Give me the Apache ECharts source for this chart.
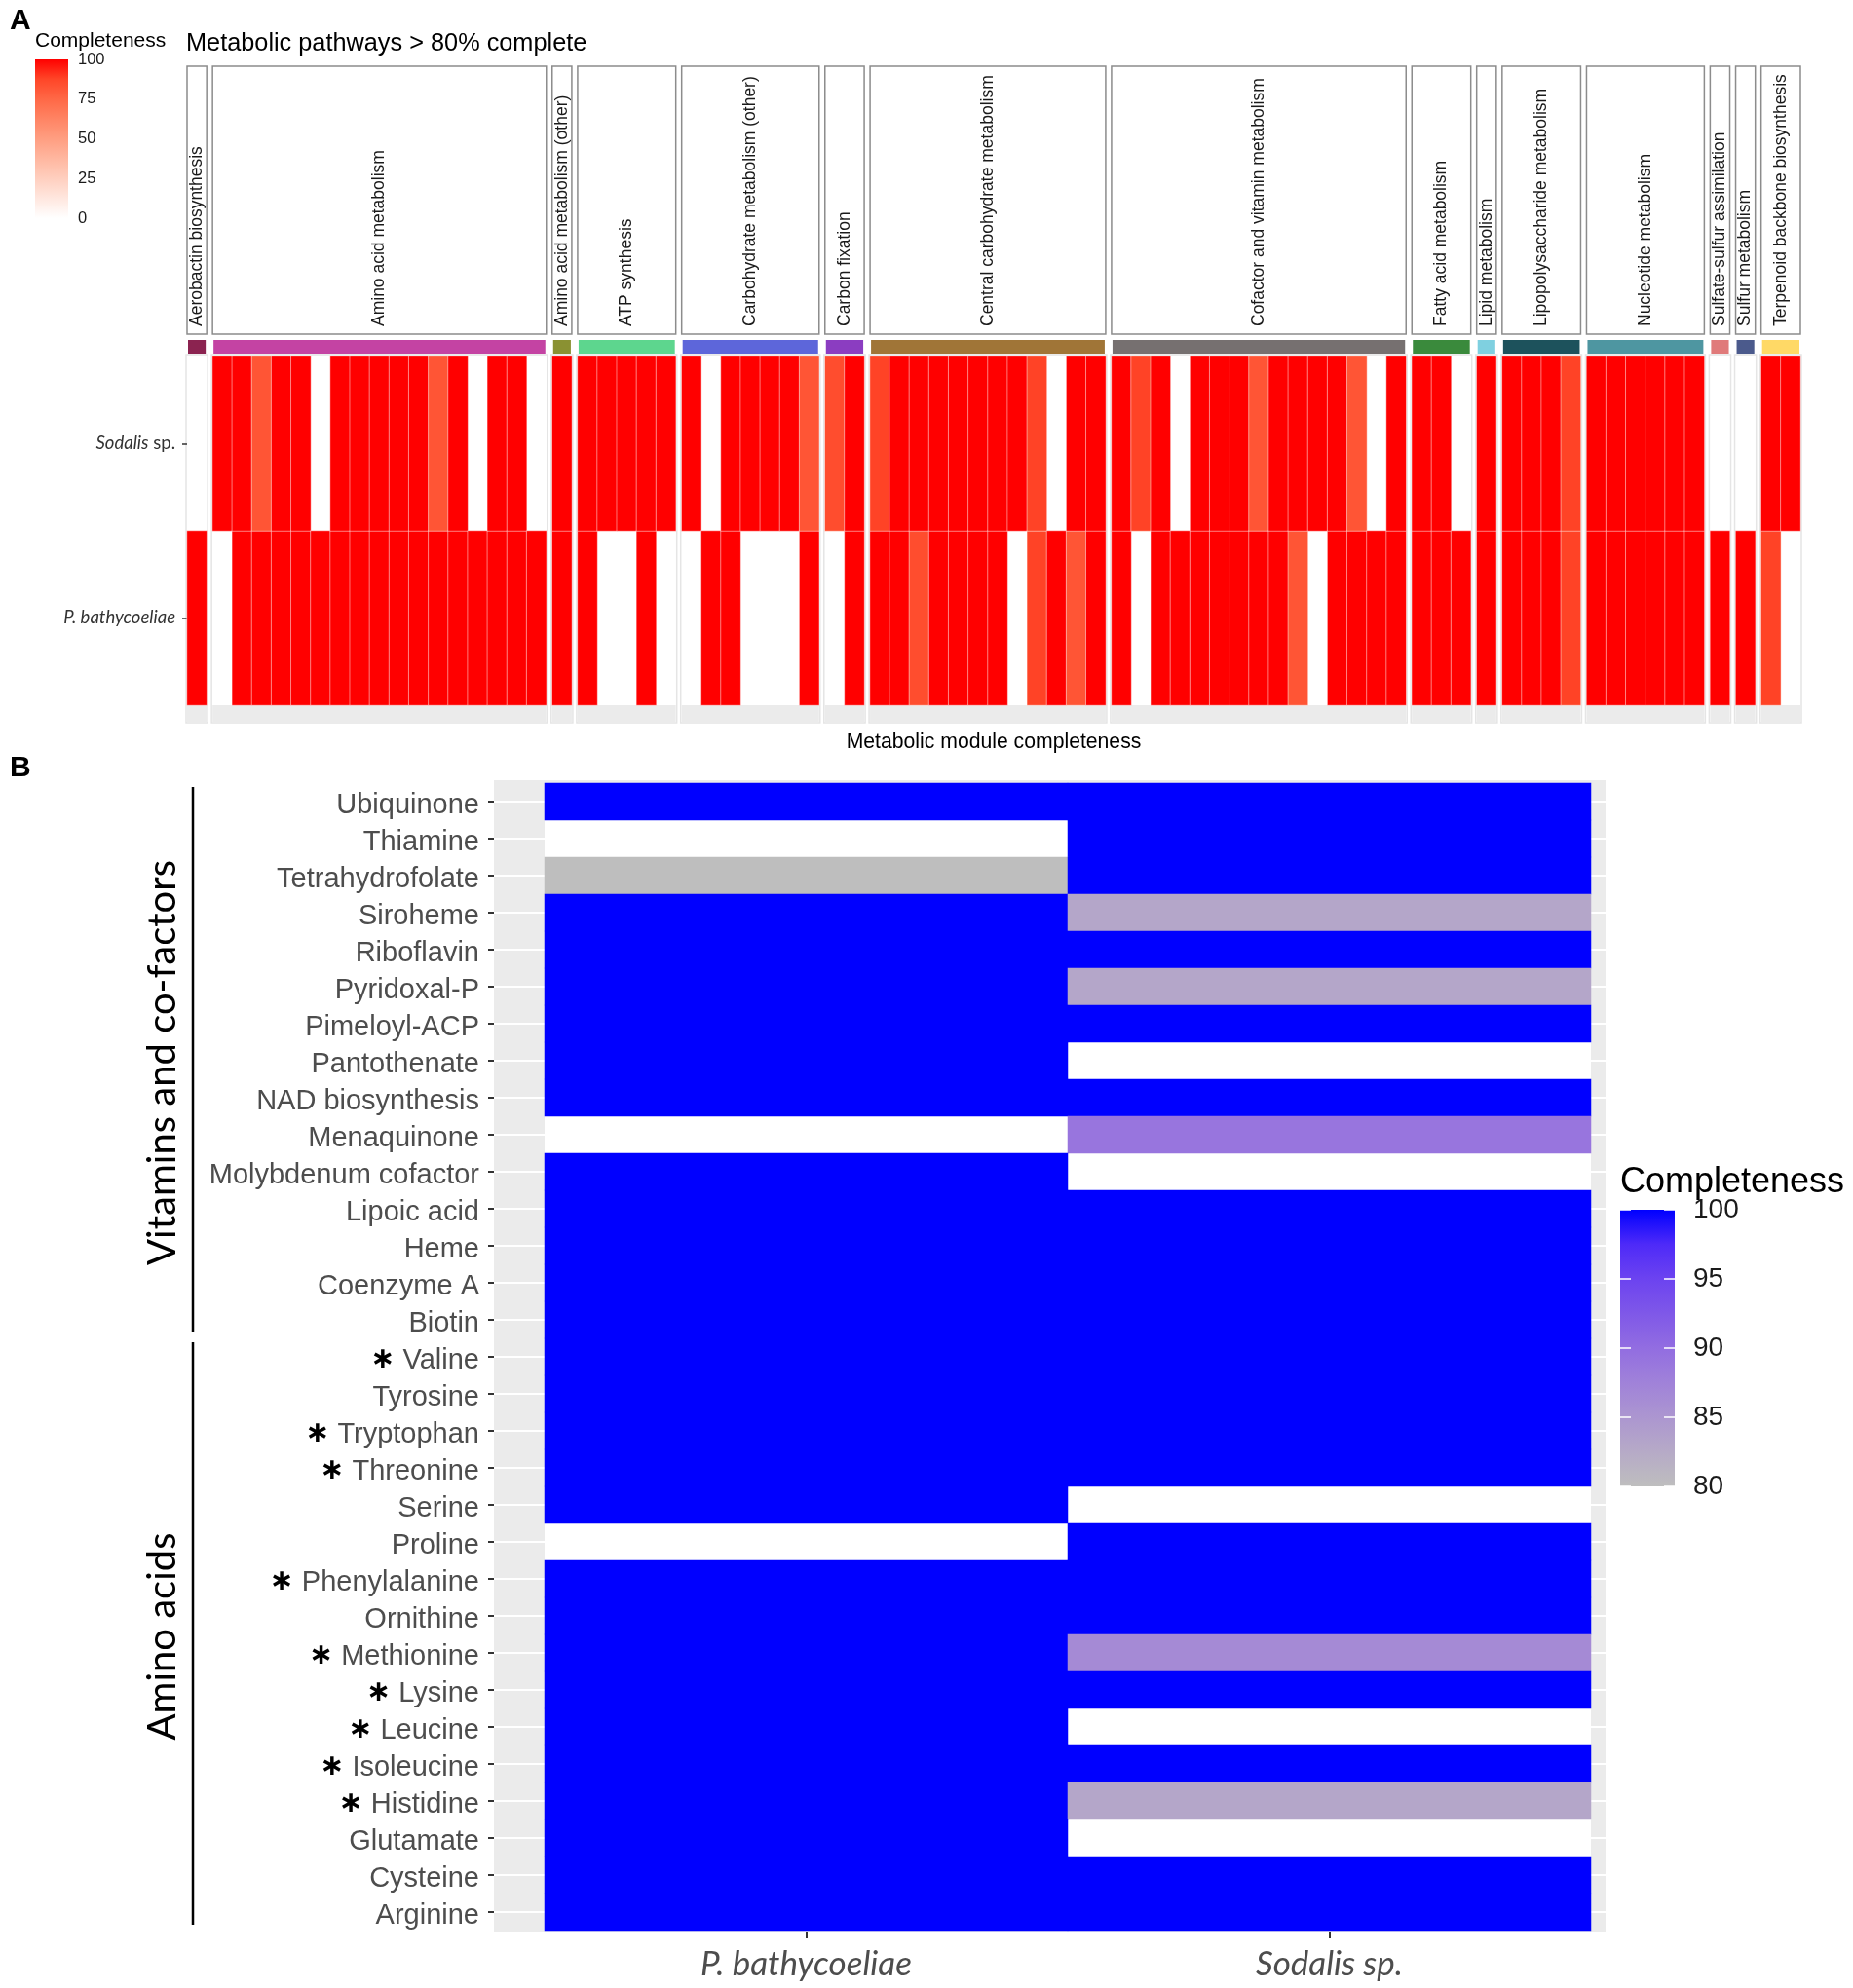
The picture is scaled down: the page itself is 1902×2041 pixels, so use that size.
<!DOCTYPE html>
<html>
<head>
<meta charset="utf-8">
<script src="https://cdn.jsdelivr.net/npm/echarts@6.0.0/dist/echarts.min.js"></script>
<style>
  html, body { margin: 0; padding: 0; background: #fff; }
  #chart { width: 1902px; height: 2041px; }
</style>
</head>
<body>
<div id="chart"></div>
<script>
// ---------- panel A data ----------
var pathwayGroups = ['Aerobactin biosynthesis', 'Amino acid metabolism', 'Amino acid metabolism (other)',
  'ATP synthesis', 'Carbohydrate metabolism (other)', 'Carbon fixation', 'Central carbohydrate metabolism',
  'Cofactor and vitamin metabolism', 'Fatty acid metabolism', 'Lipid metabolism',
  'Lipopolysaccharide metabolism', 'Nucleotide metabolism', 'Sulfate-sulfur assimilation',
  'Sulfur metabolism', 'Terpenoid backbone biosynthesis'];
var modulesPerGroup = [1, 17, 1, 5, 7, 2, 12, 15, 3, 1, 4, 6, 1, 1, 2];
var genomesA = ['P. bathycoeliae', 'Sodalis sp.'];
var N = null;
var sodalisA = [
  N,
  100, 100, 82, 100, 100, N, 100, 100, 100, 100, 100, 82, 100, N, 100, 100, N,
  100,
  100, 100, 100, 100, 100,
  100, N, 100, 100, 100, 100, 82,
  85, 100,
  88, 100, 100, 100, 100, 100, 100, 100, 88, N, 100, 100,
  100, 88, 100, N, 100, 100, 100, 82, 100, 100, 100, 100, 82, N, 100,
  100, 100, N,
  100,
  100, 100, 100, 88,
  100, 100, 100, 100, 100, 100,
  N,
  N,
  100, 100
];
var pbathA = [
  100,
  N, 100, 100, 100, 100, 100, 100, 100, 100, 100, 100, 100, 100, 100, 100, 100, 100,
  100,
  100, N, N, 100, N,
  N, 100, 100, N, N, N, 100,
  N, 100,
  100, 100, 85, 100, 100, 100, 100, N, 88, 100, 82, 100,
  100, N, 100, 100, 100, 100, 100, 100, 100, 82, N, 100, 100, 100, 100,
  100, 100, 100,
  100,
  100, 100, 100, 88,
  100, 100, 100, 100, 100, 100,
  100,
  100,
  88, N
];
var legendTicksA = [0, 25, 50, 75, 100];

// ---------- panel B data ----------
var vitaminRows = ['Ubiquinone', 'Thiamine', 'Tetrahydrofolate', 'Siroheme', 'Riboflavin', 'Pyridoxal-P',
  'Pimeloyl-ACP', 'Pantothenate', 'NAD biosynthesis', 'Menaquinone', 'Molybdenum cofactor',
  'Lipoic acid', 'Heme', 'Coenzyme A', 'Biotin'];
var aminoRows = ['Valine', 'Tyrosine', 'Tryptophan', 'Threonine', 'Serine', 'Proline', 'Phenylalanine',
  'Ornithine', 'Methionine', 'Lysine', 'Leucine', 'Isoleucine', 'Histidine', 'Glutamate', 'Cysteine', 'Arginine'];
var essentialAmino = ['Valine', 'Tryptophan', 'Threonine', 'Phenylalanine', 'Methionine', 'Lysine',
  'Leucine', 'Isoleucine', 'Histidine'];
var genomesB = ['P. bathycoeliae', 'Sodalis sp.'];
var pbathB = [100, N, 80, 100, 100, 100, 100, 100, 100, N, 100, 100, 100, 100, 100,
  100, 100, 100, 100, 100, N, 100, 100, 100, 100, 100, 100, 100, 100, 100, 100];
var sodalisB = [100, 100, 100, 83, 100, 83, 100, N, 100, 89, N, 100, 100, 100, 100,
  100, 100, 100, 100, N, 100, 100, 100, 86.5, 100, N, 100, 83, N, 100, 100];
var legendTicksB = [80, 85, 90, 95, 100];

// ---------- styles ----------
var groupColors = ['#8B2350', '#C443A3', '#8A9132', '#5DD68E', '#5D66DA', '#8B3DC1', '#A07537',
  '#767070', '#3A8A3C', '#7FD0E0', '#1D525C', '#4E96A1', '#E07A7A', '#4B5A8C', '#FFD966'];
var redStops = ['#FFFFFF', '#FFE7DF', '#FFCFBF', '#FFB7A0', '#FF9E81', '#FF8464', '#FF6846', '#FF4628', '#FF0000'];
var blueStops = ['#BEBEBE', '#B6AAC7', '#AC96D0', '#A082D9', '#926DE1', '#7F58E8', '#6C43F0', '#4E2AF8', '#0000FF'];
var ARIAL = '"Liberation Sans", Arial, sans-serif';
var CALIBRI = 'Lato, "Open Sans", sans-serif';

function verticalGradient(stops) {
  var top = stops.slice().reverse();
  return new echarts.graphic.LinearGradient(0, 0, 0, 1, top.map(function (c, i) {
    return { offset: i / (top.length - 1), color: c };
  }));
}

var chart = echarts.init(document.getElementById('chart'));
var grids = [], xAxes = [], yAxes = [], series = [], graphics = [];

// ---------- panel A: one facet grid per pathway group ----------
var aLeft = 192, aRight = 1848, aGap = 6, aTop = 366, aBottom = 724;
var nModules = modulesPerGroup.reduce(function (s, n) { return s + n; }, 0);
var colW = (aRight - aLeft - aGap * (modulesPerGroup.length - 1)) / nModules;
var x0 = aLeft, first = 0;
var seriesA = [];

modulesPerGroup.forEach(function (n, g) {
  var w = n * colW;
  var ids = [], cells = [];
  for (var i = 0; i < n; i++) {
    ids.push('M' + (first + i + 1));
    if (pbathA[first + i] !== null) cells.push([i, 0, pbathA[first + i]]);
    if (sodalisA[first + i] !== null) cells.push([i, 1, sodalisA[first + i]]);
  }
  grids.push({ left: x0, top: aTop, width: w, height: aBottom - aTop, outerBoundsMode: 'none' });
  xAxes.push({ gridIndex: g, type: 'category', data: ids, show: false });
  yAxes.push({
    gridIndex: g, type: 'category', data: genomesA, show: g === 0,
    axisLine: { show: false },
    axisTick: { show: true, alignWithLabel: true, length: 5, lineStyle: { color: '#333', width: 1.5 } },
    splitLine: { show: false },
    axisLabel: {
      margin: 12, fontFamily: CALIBRI, fontSize: 18.5, color: '#333',
      formatter: function (v) {
        return / sp\.$/.test(v) ? '{it|' + v.slice(0, -4) + '} sp.' : '{it|' + v + '}';
      },
      rich: { it: { fontStyle: 'italic', fontFamily: CALIBRI, fontSize: 18.5, color: '#333' } }
    }
  });
  seriesA.push(series.length);
  series.push({
    type: 'heatmap', xAxisIndex: g, yAxisIndex: g, data: cells,
    itemStyle: { borderColor: 'rgba(255,255,255,0.45)', borderWidth: 1 }
  });

  // facet outline, bottom strip, header box, colour bar, header text
  graphics.push({ type: 'rect', silent: true, shape: { x: x0 - 1, y: 364, width: w + 2, height: 378 },
    style: { fill: 'none', stroke: '#E5E5E5', lineWidth: 1.5 } });
  graphics.push({ type: 'rect', silent: true, shape: { x: x0, y: aBottom, width: w, height: 18 },
    style: { fill: '#EBEBEB' } });
  graphics.push({ type: 'rect', silent: true, shape: { x: x0, y: 68, width: w, height: 275 },
    style: { fill: '#FFFFFF', stroke: '#8C8C8C', lineWidth: 1.5 } });
  graphics.push({ type: 'rect', silent: true, shape: { x: x0 + 1, y: 349, width: w - 2, height: 14 },
    style: { fill: groupColors[g] } });
  graphics.push({ type: 'text', silent: true, x: x0 + w / 2, y: 335, rotation: Math.PI / 2,
    style: { text: pathwayGroups[g], fontFamily: ARIAL, fontSize: 17.5, fill: '#1A1A1A',
      textAlign: 'left', textVerticalAlign: 'middle' } });

  x0 += w + aGap;
  first += n;
});

// panel A colour legend (grid 15)
grids.push({ left: 36, top: 61, width: 34, height: 163, show: true, borderWidth: 0,
  backgroundColor: verticalGradient(redStops), outerBoundsMode: 'none' });
xAxes.push({ gridIndex: 15, type: 'category', data: [''], show: false });
yAxes.push({
  gridIndex: 15, type: 'value', position: 'right',
  min: legendTicksA[0], max: legendTicksA[legendTicksA.length - 1], interval: legendTicksA[1] - legendTicksA[0],
  axisLine: { show: false }, axisTick: { show: false }, splitLine: { show: false },
  axisLabel: { margin: 10, fontFamily: ARIAL, fontSize: 16.5, color: '#1A1A1A' }
});

// ---------- panel B ----------
var rowsB = vitaminRows.concat(aminoRows);
var bTop = 804, bBottom = 1982, bLeft = 559, bRight = 1633;
var panelLeft = 507, panelRight = 1648;
var rowH = (bBottom - bTop) / rowsB.length;

// grey panel background (grid 16)
grids.push({ left: panelLeft, top: bTop - 3, width: panelRight - panelLeft, height: bBottom - bTop + 4,
  show: true, backgroundColor: '#EBEBEB', borderWidth: 0, z: 0, outerBoundsMode: 'none' });
xAxes.push({ gridIndex: 16, type: 'category', data: genomesB, show: false });
yAxes.push({ gridIndex: 16, type: 'category', data: rowsB, show: false });

// white grid lines through row centres (grid 17)
grids.push({ left: panelLeft, top: bTop + rowH / 2, width: panelRight - panelLeft,
  height: rowH * (rowsB.length - 1), outerBoundsMode: 'none' });
xAxes.push({ gridIndex: 17, type: 'category', data: genomesB, show: false });
yAxes.push({
  gridIndex: 17, type: 'category', data: rowsB, inverse: true, boundaryGap: false, z: 1,
  axisLine: { show: false }, axisTick: { show: false, interval: 0 }, axisLabel: { show: false, interval: 0 },
  splitLine: { show: true, interval: 0, lineStyle: { color: '#FFFFFF', width: 2 } }
});

// tiles (grid 18)
grids.push({ left: bLeft, top: bTop, width: bRight - bLeft, height: bBottom - bTop,
  show: true, backgroundColor: '#FFFFFF', borderWidth: 0, z: 2, outerBoundsMode: 'none' });
xAxes.push({
  gridIndex: 18, type: 'category', data: genomesB, offset: 1,
  axisLine: { show: false },
  axisTick: { show: true, alignWithLabel: true, length: 7, lineStyle: { color: '#333', width: 2 } },
  splitLine: { show: false },
  axisLabel: { margin: 16, fontFamily: CALIBRI, fontStyle: 'italic', fontSize: 35, color: '#4D4D4D' }
});
yAxes.push({
  gridIndex: 18, type: 'category', data: rowsB, inverse: true, offset: bLeft - panelLeft,
  axisLine: { show: false },
  axisTick: { show: true, alignWithLabel: true, length: 6, lineStyle: { color: '#333', width: 2 } },
  splitLine: { show: false },
  axisLabel: {
    interval: 0, margin: 15, fontFamily: ARIAL, fontSize: 29, color: '#4D4D4D', padding: [7, 0, 0, 0],
    formatter: function (v) {
      return essentialAmino.indexOf(v) >= 0 ? '{ast|\u2217} ' + v : v;
    },
    rich: { ast: { fontFamily: '"DejaVu Sans"', fontSize: 30, fontWeight: 'bold', color: '#000' } }
  }
});
var cellsB = [];
rowsB.forEach(function (r, i) {
  if (pbathB[i] !== null) cellsB.push([0, i, pbathB[i]]);
  if (sodalisB[i] !== null) cellsB.push([1, i, sodalisB[i]]);
});
var seriesB = series.length;
series.push({ type: 'heatmap', xAxisIndex: 18, yAxisIndex: 18, data: cellsB, z: 3 });

// panel B colour legend (grid 19)
grids.push({ left: 1663, top: 1242, width: 56, height: 284, show: true, borderWidth: 0,
  backgroundColor: verticalGradient(blueStops), outerBoundsMode: 'none' });
xAxes.push({ gridIndex: 19, type: 'category', data: [''], show: false });
var legendAxisB = {
  min: legendTicksB[0], max: legendTicksB[legendTicksB.length - 1], interval: legendTicksB[1] - legendTicksB[0],
  axisLine: { show: false }, splitLine: { show: false },
  axisTick: { show: true, inside: true, length: 11, lineStyle: { color: '#FFFFFF', width: 1.5 } }
};
yAxes.push(Object.assign({ gridIndex: 19, type: 'value', position: 'right',
  axisLabel: { margin: 19, fontFamily: ARIAL, fontSize: 28, color: '#1A1A1A' } }, legendAxisB));
yAxes.push(Object.assign({ gridIndex: 19, type: 'value', position: 'left',
  axisLabel: { show: false } }, legendAxisB));

// ---------- panel B group brackets ----------
var groupsB = [
  { name: 'Vitamins and co-factors', from: 0, to: vitaminRows.length },
  { name: 'Amino acids', from: vitaminRows.length, to: rowsB.length }
];
groupsB.forEach(function (grp) {
  var y1 = bTop + grp.from * rowH + 4, y2 = bTop + grp.to * rowH - 6;
  graphics.push({ type: 'line', silent: true, shape: { x1: 198, y1: y1, x2: 198, y2: y2 },
    style: { stroke: '#000', lineWidth: 2.5 } });
  graphics.push({ type: 'text', silent: true, x: 167, y: (y1 + y2) / 2 + 3, rotation: Math.PI / 2,
    style: { text: grp.name, fontFamily: CALIBRI, fontSize: 40, fill: '#000',
      textAlign: 'center', textVerticalAlign: 'middle' } });
});

// ---------- free texts ----------
function label(text, x, y, size, opts) {
  graphics.push({ type: 'text', silent: true, x: x, y: y,
    style: Object.assign({ text: text, fontFamily: ARIAL, fontSize: size, fill: '#000',
      textAlign: 'left', textVerticalAlign: 'middle' }, opts || {}) });
}
label('A', 10, 22, 30, { fontWeight: 'bold' });
label('B', 10, 789, 30, { fontWeight: 'bold' });
label('Completeness', 36, 42, 21);
label('Metabolic pathways > 80% complete', 191, 45, 25.3);
label('Metabolic module completeness', (aLeft + aRight) / 2, 762, 21.2, { textAlign: 'center' });
label('Completeness', 1663, 1214, 36);

chart.setOption({
  animation: false,
  backgroundColor: '#FFFFFF',
  grid: grids,
  xAxis: xAxes,
  yAxis: yAxes,
  visualMap: [
    { type: 'continuous', show: false, seriesIndex: seriesA, min: 0, max: 100,
      inRange: { color: redStops } },
    { type: 'continuous', show: false, seriesIndex: seriesB, min: 80, max: 100,
      inRange: { color: blueStops } }
  ],
  series: series,
  graphic: { elements: graphics }
});
</script>
</body>
</html>
